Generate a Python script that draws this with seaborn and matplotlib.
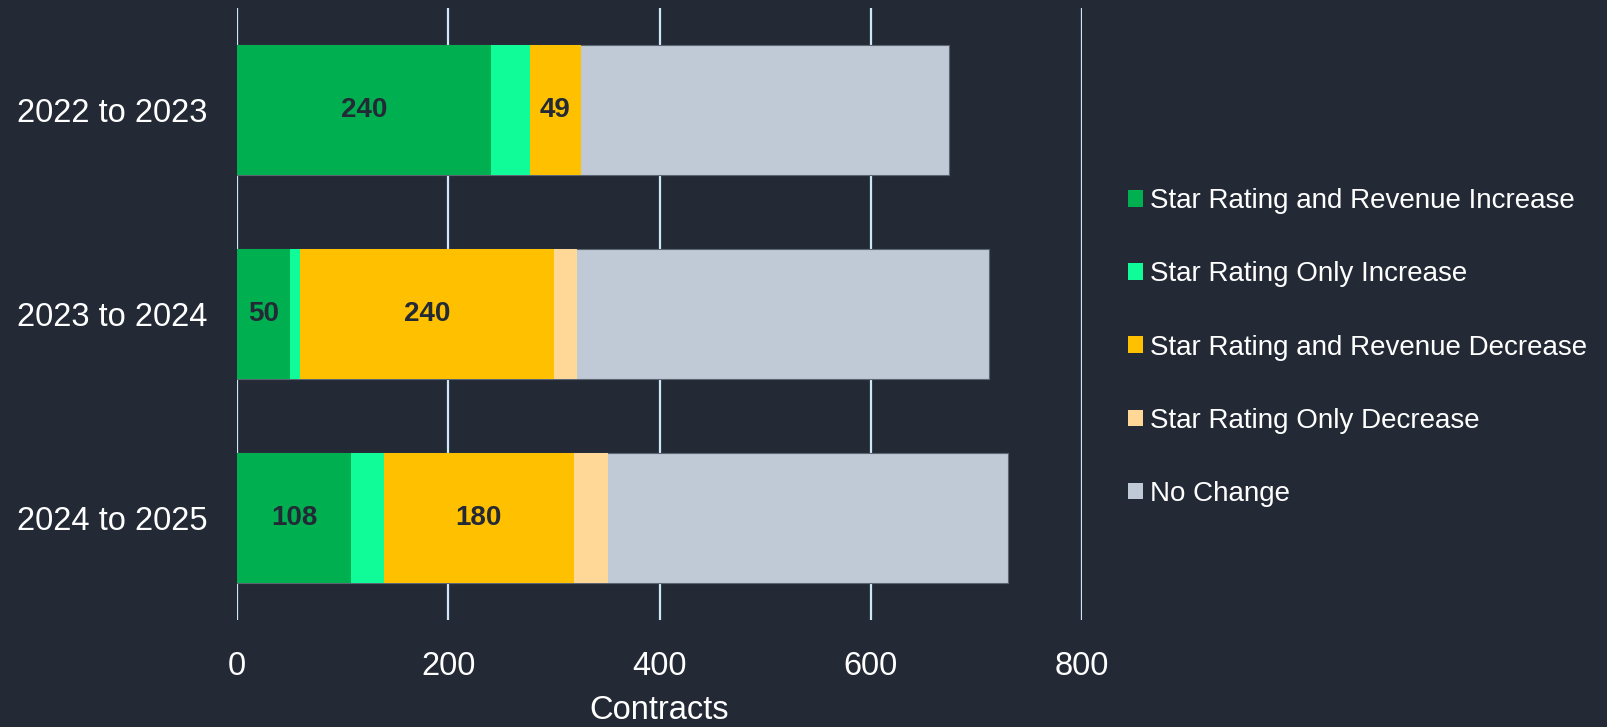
# Stacked bar chart of contract changes per period, dark theme.

import matplotlib

matplotlib.use('Agg')

import matplotlib.pyplot as plt
import matplotlib.patches as mpatches
import seaborn as sns
import numpy as np
import pandas as pd


periods = ['2022 to 2023', '2023 to 2024', '2024 to 2025']

both_up = [240, 50, 108]
star_up = [37, 10, 31]
both_down = [49, 240, 180]
star_down = [0, 22, 32]
no_change = [348, 390, 379]

categories = [
    'Star Rating and Revenue Increase',
    'Star Rating Only Increase',
    'Star Rating and Revenue Decrease',
    'Star Rating Only Decrease',
    'No Change',
]

colors = ['#00b050', '#10fc98', '#ffc000', '#ffd898', '#bfcad6']

labelled = ['Star Rating and Revenue Increase', 'Star Rating and Revenue Decrease']

BG = '#232a36'
GRID = '#cde7f7'

sns.set_theme(style='dark')
plt.rcParams['font.family'] = ['Liberation Sans', 'DejaVu Sans']

series = [both_up, star_up, both_down, star_down, no_change]

df = pd.DataFrame({'Periodo': periods})
for name, vals in zip(categories, series):
    df[name] = vals

cum = df[categories].cumsum(axis=1)

fig = plt.figure(figsize=(16.08, 7.27), dpi=100, facecolor=BG)
ax = fig.add_axes([0.1474, 0.1472, 0.5255, 0.842])
ax.set_facecolor(BG)

# barras acumuladas, de la mas larga a la mas corta
for name, col in reversed(list(zip(categories, colors))):
    sns.barplot(
        x=cum[name],
        y=df['Periodo'],
        orient='h',
        color=col,
        saturation=1,
        width=0.64,
        linewidth=0,
        ax=ax,
    )

# borde fino alrededor de cada barra completa
for p in ax.patches[:len(periods)]:
    p.set_edgecolor('#5c6673')
    p.set_linewidth(0.8)

# etiquetas dentro de los segmentos principales
for name in labelled:
    start = cum[name] - df[name]
    for i, v in enumerate(df[name]):
        ax.text(
            start[i] + v / 2,
            i,
            f'{v}',
            ha='center',
            va='center',
            fontsize=20,
            fontweight='bold',
            color=BG,
        )

ax.set_xlim(0, 800)
ax.set_ylim(2.5, -0.5)
ax.set_xticks([0, 200, 400, 600, 800])

ax.grid(axis='x', color=GRID, linewidth=1.6)
ax.grid(axis='y', visible=False)
ax.set_axisbelow(True)

for s in ax.spines.values():
    s.set_visible(False)

ax.tick_params(axis='x', length=0, pad=22, labelsize=23.5, labelcolor='white')
ax.tick_params(axis='y', length=0, pad=21, labelsize=23.5, labelcolor='white')

ax.set_xlabel('Contracts', fontsize=23.5, color='white', labelpad=10)
ax.set_ylabel('')

handles = [
    mpatches.Patch(facecolor=c, edgecolor='none', label=n)
    for n, c in zip(categories, colors)
]

fig.legend(
    handles=handles,
    loc='center left',
    bbox_to_anchor=(0.7015, 0.522),
    frameon=False,
    fontsize=20,
    labelcolor='white',
    handlelength=0.55,
    handleheight=0.55,
    handletextpad=0.25,
    labelspacing=1.7,
    borderpad=0,
    borderaxespad=0,
)

plt.savefig('out.png', dpi=100, facecolor=BG)

plt.close()
